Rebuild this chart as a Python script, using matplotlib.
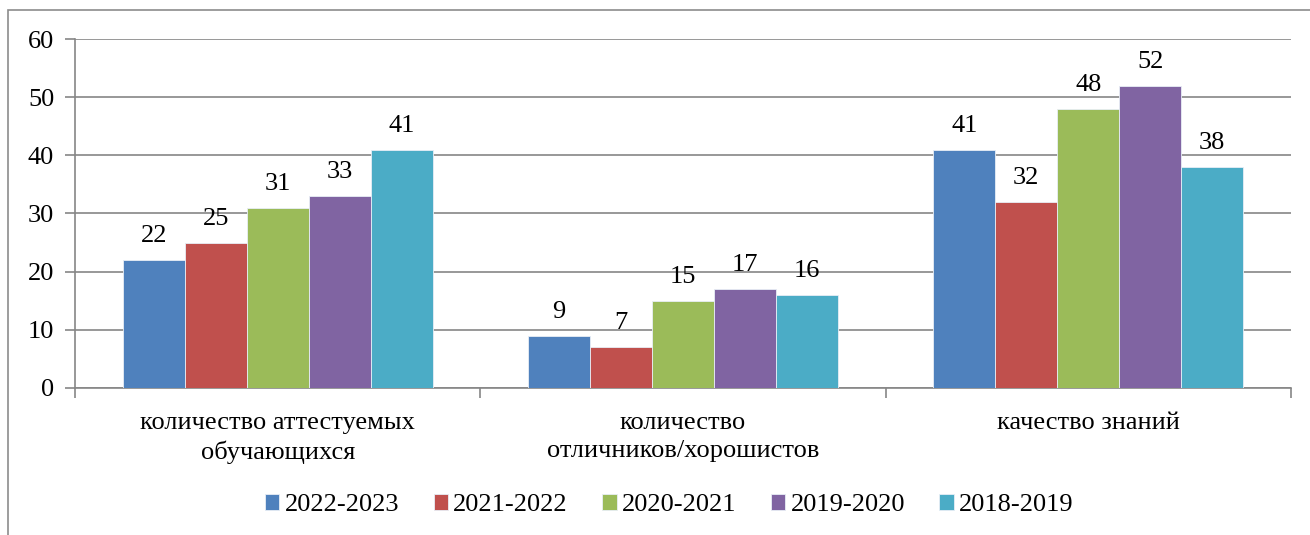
#!/usr/bin/env python3
import numpy as np
import matplotlib
matplotlib.use('Agg')
import matplotlib.pyplot as plt
from matplotlib.patches import Rectangle

# DATOS
categorias = ['количество аттестуемых\nобучающихся',
              'количество\nотличников/хорошистов',
              'качество знаний']
anios = ['2022-2023', '2021-2022', '2020-2021', '2019-2020', '2018-2019']
v_2022 = [22, 9, 41]
v_2021 = [25, 7, 32]
v_2020 = [31, 15, 48]
v_2019 = [33, 17, 52]
v_2018 = [41, 16, 38]
series = [v_2022, v_2021, v_2020, v_2019, v_2018]
colores = ['#4F81BD', '#C0504D', '#9BBB59', '#8064A2', '#4BACC6']

FUENTE = 'Liberation Serif'
plt.rcParams['font.family'] = FUENTE

fig = plt.figure(figsize=(13.1, 5.35), dpi=100)
ax = fig.add_axes([0.0573, 0.2748, 0.9282, 0.6523])

# marco exterior (solo se ven lado izquierdo y superior)
fig.patches.append(Rectangle((8 / 1310, -0.1), 1.2, 1 - 10 / 535 + 0.1,
                             transform=fig.transFigure, fill=False,
                             edgecolor='#8c8c8c', linewidth=1.2))

x = np.arange(len(categorias))
ancho = 0.153
for i, (vals, col, lab) in enumerate(zip(series, colores, anios)):
    pos = x + (i - 2) * ancho
    ax.bar(pos, vals, ancho, color=col, label=lab, zorder=3,
           edgecolor='#e8eef6', linewidth=0.6)
    for px, v in zip(pos, vals):
        ax.text(px, v + 2.2, str(v), ha='center', va='bottom', fontsize=19,
                family=FUENTE)

ax.set_xlim(-0.5, 2.5)
ax.set_ylim(0, 60)
ax.set_yticks(range(0, 61, 10))
ax.set_yticklabels([str(t) for t in range(0, 61, 10)], family=FUENTE, fontsize=19)
ax.yaxis.grid(True, color='#868686', linewidth=1.2, zorder=0)
ax.tick_params(axis='y', length=7, color='#868686', width=1.2, pad=8)
ax.set_xticks([-0.5, 0.5, 1.5, 2.5])
ax.set_xticklabels([])
ax.tick_params(axis='x', length=7, color='#868686', width=1.2)
ax.set_xticks(x, minor=True)
ax.set_xticklabels(categorias, minor=True, fontsize=19, family=FUENTE,
                   linespacing=1.4)
ax.tick_params(axis='x', which='minor', length=0, pad=17)
for lado in ['top', 'right']:
    ax.spines[lado].set_visible(False)
for lado in ['left', 'bottom']:
    ax.spines[lado].set_color('#868686')
    ax.spines[lado].set_linewidth(1.2)

fig.legend(loc='center', bbox_to_anchor=(0.511, 1 - 505 / 535), ncol=5,
           frameon=False, prop={'family': FUENTE, 'size': 19},
           handlelength=0.55, handleheight=0.55,
           handletextpad=0.2, columnspacing=1.3)

fig.savefig('out.png', dpi=100)
